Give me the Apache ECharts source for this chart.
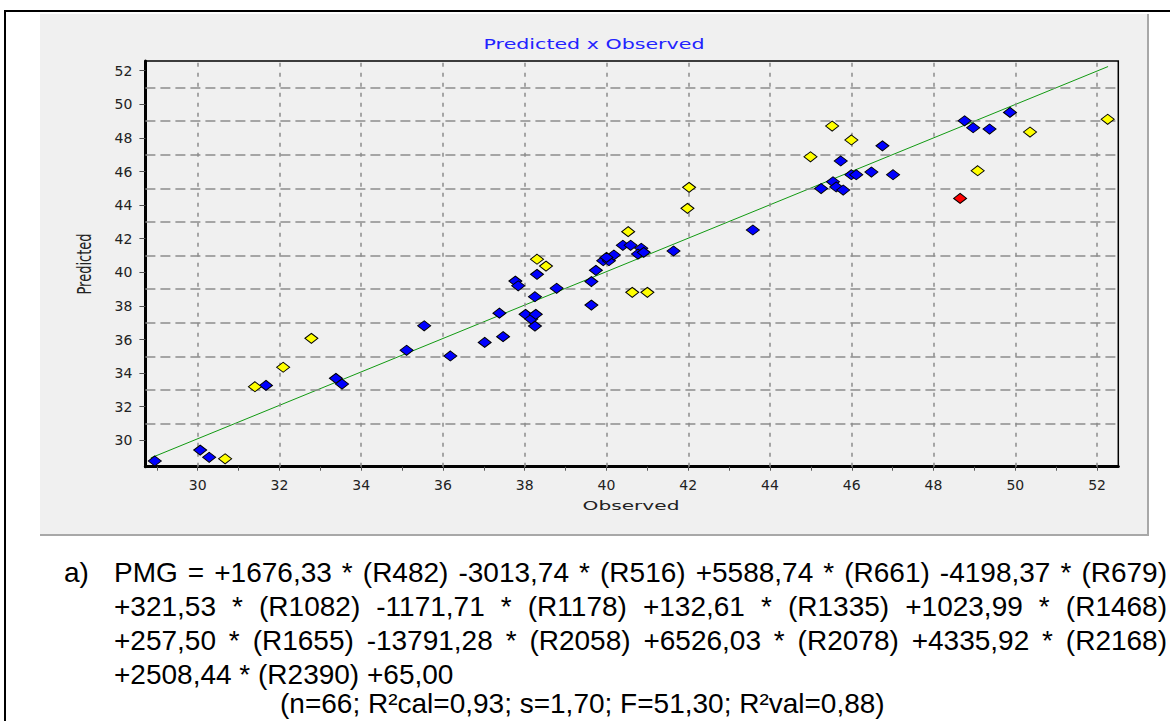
<!DOCTYPE html>
<html>
<head>
<meta charset="utf-8">
<script src="https://cdn.jsdelivr.net/npm/echarts@6/dist/echarts.min.js"></script>
<style>
html,body{margin:0;padding:0;background:#fff;}
#c{width:1170px;height:721px;}
</style>
</head>
<body>
<div id="c"></div>
<script>
// ---- Data ----
const xTickValues = [29,30,31,32,33,34,35,36,37,38,39,40,41,42,43,44,45,46,47,48,49,50,51,52];
const xLabelValues = [30,32,34,36,38,40,42,44,46,48,50,52];
const yLabelValues = [30,32,34,36,38,40,42,44,46,48,50,52];
const xGridValues = [30,32,34,36,38,40,42,44,46,48,50,52];
const yGridValues = [31,33,35,37,39,41,43,45,47,49,51];

const blueObserved = [28.95,30.06,30.28,31.67,33.38,33.53,35.11,35.54,36.18,37.02,37.47,37.38,37.77,37.84,38.30,38.78,38.25,38.02,38.16,38.27,38.25,39.63,39.63,39.74,39.92,40.06,40.18,40.00,40.40,40.59,40.85,40.77,40.91,41.64,43.58,46.75,45.73,45.25,45.54,45.62,45.79,45.99,46.11,46.48,47.01,48.76,48.97,49.37,49.87];
const bluePredicted = [28.77,29.42,28.99,33.27,33.69,33.35,35.36,36.82,35.02,35.83,36.17,37.57,39.48,39.20,39.88,39.05,38.55,37.50,37.22,37.50,36.80,38.05,39.45,40.12,40.69,40.69,41.03,40.89,41.61,41.61,41.43,41.09,41.19,41.27,42.52,47.53,46.63,44.99,45.39,45.08,44.90,45.81,45.81,45.97,45.81,49.02,48.61,48.53,49.52];

const yellowObserved = [30.67,31.40,32.09,32.78,38.30,38.52,40.53,40.63,41.00,42.02,41.98,44.99,45.52,45.99,49.08,50.36,52.26];
const yellowPredicted = [28.90,33.19,34.35,36.07,40.78,40.37,42.42,38.81,38.81,45.06,43.81,46.88,48.71,47.88,46.05,48.35,49.11];

const redObserved = [48.65];
const redPredicted = [44.40];

const fitObserved = [28.85, 52.27];
const fitPredicted = [28.95, 52.25];

const titleText = 'Predicted x Observed';
const xName = 'Observed';
const yName = 'Predicted';

const eqPrefix = 'a)';
const eqLine1 = ['PMG','=','+1676,33','*','(R482)','-3013,74','*','(R516)','+5588,74','*','(R661)','-4198,37','*','(R679)'];
const eqLine2 = ['+321,53','*','(R1082)','-1171,71','*','(R1178)','+132,61','*','(R1335)','+1023,99','*','(R1468)'];
const eqLine3 = ['+257,50','*','(R1655)','-13791,28','*','(R2058)','+6526,03','*','(R2078)','+4335,92','*','(R2168)'];
const eqLine4 = '+2508,44 * (R2390) +65,00';
const statsLine = '(n=66; R\u00B2cal=0,93; s=1,70; F=51,30; R\u00B2val=0,88)';

// ---- Build ----
const pairs = (xs, ys) => xs.map((x, i) => [x, ys[i]]);

const eqFontSize = 28;
const eqFontFamily = '"Liberation Sans", Arial, sans-serif';
const ctx = document.createElement('canvas').getContext('2d');
ctx.font = eqFontSize + 'px ' + eqFontFamily;

function eqText(text, x, y) {
  return {type: 'text', x: x, y: y, z: 10,
    style: {text: text, fontSize: eqFontSize, fontFamily: eqFontFamily, fill: '#000', align: 'left', verticalAlign: 'middle'}};
}
function justified(words, x0, x1, y) {
  const ws = words.map(w => ctx.measureText(w).width);
  const total = ws.reduce((a, b) => a + b, 0);
  const gap = (x1 - x0 - total) / (words.length - 1);
  let x = x0;
  return words.map((w, i) => { const el = eqText(w, x, y); x += ws[i] + gap; return el; });
}

const eqLeft = 114, eqRight = 1167;
const graphicEls = [
  {type: 'rect', z: -10, shape: {x: 5, y: 11, width: 1300, height: 900}, style: {fill: '#fff', stroke: '#000', lineWidth: 2}},
  {type: 'rect', z: -9, shape: {x: 40, y: 14, width: 1108, height: 520}, style: {fill: '#f0f0f0'}},
  {type: 'line', z: -8, shape: {x1: 1148, y1: 14, x2: 1148, y2: 535}, style: {stroke: '#a8a8a8', lineWidth: 2}},
  {type: 'line', z: -8, shape: {x1: 40, y1: 535, x2: 1149, y2: 535}, style: {stroke: '#a8a8a8', lineWidth: 2}},
  {type: 'text', x: 594, y: 44, scaleX: 1.42, z: 10,
    style: {text: titleText, fontSize: 14.5, fontFamily: 'DejaVu Sans', fill: '#2323ff', align: 'center', verticalAlign: 'middle'}},
  {type: 'text', x: 631, y: 505, scaleX: 1.55, z: 10,
    style: {text: xName, fontSize: 13, fontFamily: 'DejaVu Sans', fill: '#222', align: 'center', verticalAlign: 'middle'}},
  {type: 'text', x: 85, y: 264, rotation: Math.PI / 2, scaleY: 1.45, z: 10,
    style: {text: yName, fontSize: 13, fontFamily: 'DejaVu Sans', fill: '#222', align: 'center', verticalAlign: 'middle'}},
  eqText(eqPrefix, 64, 572)
].concat(
  justified(eqLine1, eqLeft, eqRight, 572),
  justified(eqLine2, eqLeft, eqRight, 606),
  justified(eqLine3, eqLeft, eqRight, 640),
  [eqText(eqLine4, eqLeft, 674), eqText(statsLine, 280, 703)]
);

const gridMarks = xGridValues.map(v => ({xAxis: v, lineStyle: {type: [4, 6]}}))
  .concat(yGridValues.map(v => ({yAxis: v, lineStyle: {type: [10, 5]}})));

const labelStyle = {fontFamily: 'DejaVu Sans', fontSize: 14, color: '#222'};
const diamond = (color) => ({
  type: 'scatter', symbol: 'diamond', symbolSize: [13, 10], z: 5,
  itemStyle: {color: color, borderColor: '#000', borderWidth: 1, opacity: 1}
});

const option = {
  animation: false,
  backgroundColor: '#ffffff',
  grid: {left: 145.4, right: 51.7, top: 61, bottom: 254.3, show: true,
    backgroundColor: '#f0f0f0', borderColor: '#000', borderWidth: 1.5},
  xAxis: {
    type: 'value', min: 28.72, max: 52.52,
    axisLine: {show: true, onZero: false, lineStyle: {color: '#000', width: 3}},
    axisTick: {show: true, customValues: xTickValues, length: 4, lineStyle: {color: '#555'}},
    axisLabel: Object.assign({customValues: xLabelValues, margin: 11}, labelStyle),
    splitLine: {show: false}
  },
  yAxis: {
    type: 'value', min: 28.43, max: 52.58,
    axisLine: {show: true, onZero: false, lineStyle: {color: '#000', width: 3}},
    axisTick: {show: true, customValues: yLabelValues, length: 6, lineStyle: {color: '#555'}},
    axisLabel: Object.assign({customValues: yLabelValues, margin: 13}, labelStyle),
    splitLine: {show: false}
  },
  series: [
    {
      type: 'line', name: 'fit', z: 2, symbol: 'none', silent: true,
      data: pairs(fitObserved, fitPredicted),
      lineStyle: {color: '#119911', width: 1},
      markLine: {silent: true, symbol: ['none', 'none'], label: {show: false},
        lineStyle: {color: '#8c8c8c', width: 1.5}, data: gridMarks, animation: false}
    },
    Object.assign(diamond('#0000ff'), {name: 'Calibration', data: pairs(blueObserved, bluePredicted)}),
    Object.assign(diamond('#ffff00'), {name: 'Validation', data: pairs(yellowObserved, yellowPredicted)}),
    Object.assign(diamond('#ff0000'), {name: 'Outlier', data: pairs(redObserved, redPredicted)})
  ],
  graphic: {elements: graphicEls}
};

const chart = echarts.init(document.getElementById('c'), null, {renderer: 'svg'});
chart.setOption(option);
</script>
</body>
</html>
